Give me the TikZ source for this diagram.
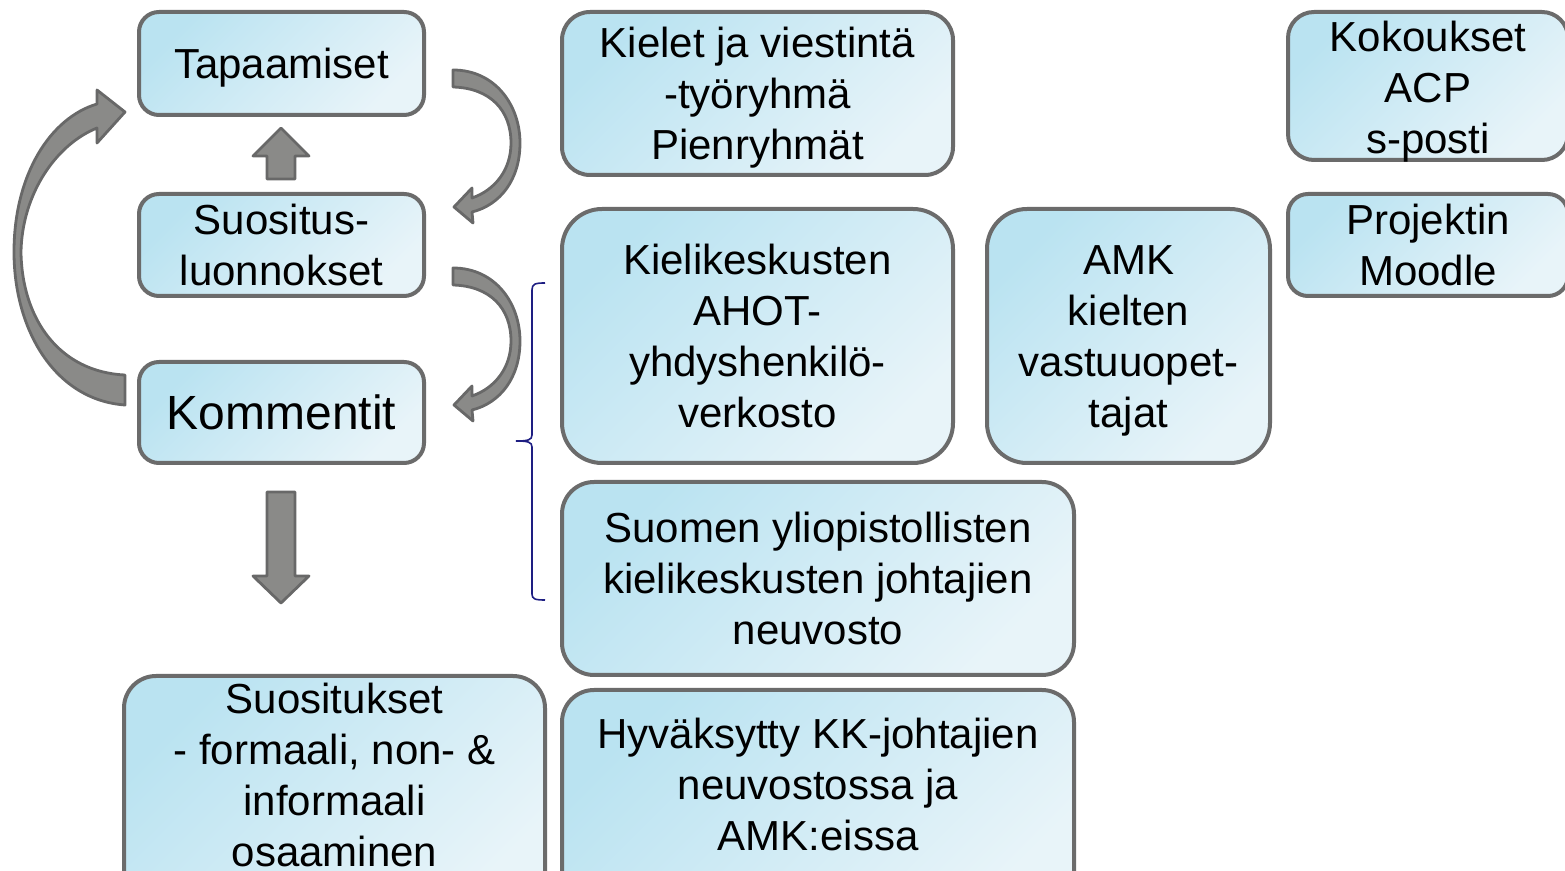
\documentclass[tikz,border=0pt]{standalone}
\usepackage{fontspec}
\setmainfont{Liberation Sans}
\definecolor{boxA}{RGB}{186,227,241}
\definecolor{boxB}{RGB}{232,244,249}
\definecolor{edgegray}{RGB}{107,107,107}
\definecolor{arrowfill}{RGB}{138,138,136}
\definecolor{arrowedge}{RGB}{104,104,104}
\definecolor{bracecol}{RGB}{30,30,130}
\tikzset{
  box/.style={draw=edgegray, line width=2pt, rounded corners=#1,
    top color=boxA, bottom color=boxB, shading angle=45, inner sep=0pt},
  blockarrow/.style={fill=arrowfill, draw=arrowedge, line width=1.4pt, line join=round},
  txt/.style={align=center, inner sep=0pt, font=\fontsize{21}{25.5}\selectfont},
}
\begin{document}
\begin{tikzpicture}[x=0.5pt,y=-0.5pt]
\useasboundingbox (0,0) rectangle (1565,871);
\begin{scope}
\clip (0,0) rectangle (1565,871);
% left column
\node[box=10pt, minimum width=142.5pt, minimum height=51.5pt] (tap) at (281.5,63.5) {};
\node[txt] (tapt) at (281.5,67.5) {Tapaamiset};
\node[box=10pt, minimum width=142.5pt, minimum height=51pt] (suo) at (281.5,245) {};
\node[txt] (suot) at (281.5,245) {Suositus-\\luonnokset};
\node[box=10pt, minimum width=142.5pt, minimum height=50.5pt] (kom) at (281.5,412.5) {};
\node[txt, font=\fontsize{24}{28}\selectfont] (komt) at (281.5,412.5) {Kommentit};
% middle
\node[box=14pt, minimum width=195.5pt, minimum height=81.5pt] (kiel) at (757.5,93.5) {};
\node[txt] (kielt) at (757.5,98) {Kielet ja viestintä\\-työryhmä\\Pienryhmät};
\node[box=20pt, minimum width=195.5pt, minimum height=127pt] (kk) at (757.5,336) {};
\node[txt] (kkt) at (757.5,336) {Kielikeskusten\\AHOT-\\yhdyshenkilö-\\verkosto};
\node[box=20pt, minimum width=141.5pt, minimum height=127pt] (amk) at (1128.5,336) {};
\node[txt] (amkt) at (1128.5,341) {AMK\\kielten\\vastuuopet-\\tajat};
\node[box=16pt, minimum width=256pt, minimum height=96.5pt] (suom) at (818,578.5) {};
\node[txt] (suomt) at (818,578.5) {Suomen yliopistollisten\\kielikeskusten johtajien\\neuvosto};
% right column
\node[box=13pt, minimum width=140pt, minimum height=74pt] (kok) at (1428,86) {};
\node[txt] (kokt) at (1428,92) {Kokoukset\\ACP\\s-posti};
\node[box=10pt, minimum width=140pt, minimum height=51pt] (proj) at (1428,245) {};
\node[txt] (projt) at (1428,245) {Projektin\\Moodle};
% bottom boxes (cut by the lower edge)
\node[box=16pt, minimum width=210.5pt, minimum height=120pt] (sug) at (334.5,796) {};
\node[txt] (sugt) at (334.5,775) {Suositukset\\- formaali, non- \&\\informaali\\osaaminen};
\node[box=16pt, minimum width=256pt, minimum height=115pt] (hyv) at (818,805) {};
\node[txt] (hyvt) at (818,784) {Hyväksytty KK-johtajien\\neuvostossa ja\\AMK:eissa};
\end{scope}
% block arrows
\draw[blockarrow] (267,179) -- (267,156) -- (253,156) -- (281,128) -- (309,156) -- (295,156) -- (295,179) -- cycle;
\draw[blockarrow] (267,492) -- (295,492) -- (295,576) -- (309,576) -- (281,603) -- (253,576) -- (267,576) -- cycle;
% left big curved arrow
\draw[blockarrow] (125,405) .. controls (55,400) and (14,330) .. (14,252)
  .. controls (14,175) and (50,118) .. (97,104) -- (97,90) -- (125,112) -- (97,143) -- (97,128)
  .. controls (55,145) and (22,195) .. (21,252)
  .. controls (22,320) and (60,372) .. (125,375) -- cycle;
% right curved arrows
\foreach \dy in {0,198}{
\begin{scope}[yshift=-\dy*0.5pt]
\draw[blockarrow] (453,70) .. controls (495,70) and (520,105) .. (520,143)
  .. controls (520,180) and (500,205) .. (472,212) -- (473,223) -- (454,207) -- (472,188) -- (472,198)
  .. controls (495,190) and (511,170) .. (511,143)
  .. controls (511,110) and (490,88) .. (453,87) -- cycle;
\end{scope}}
% brace
\draw[bracecol, line width=0.8pt] (545,283) .. controls (535,283) and (532,284) .. (532,290) -- (532,435)
  .. controls (532,440) and (528,441) .. (516,441)
  .. controls (528,441) and (532,442) .. (532,447) -- (532,594)
  .. controls (532,599) and (535,600) .. (545,600);
\end{tikzpicture}
\end{document}
